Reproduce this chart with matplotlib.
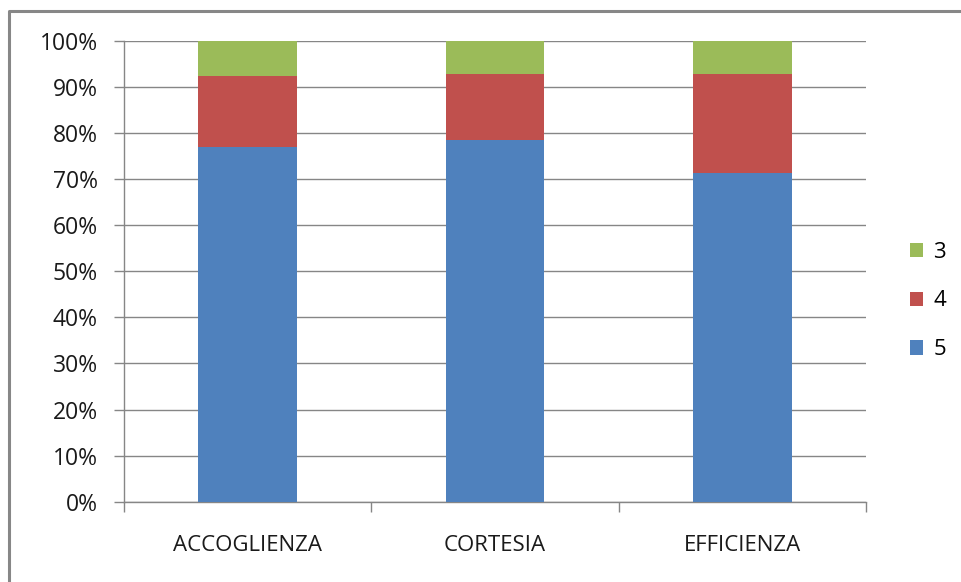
import matplotlib
matplotlib.use("Agg")
import matplotlib.pyplot as plt
from matplotlib.lines import Line2D
import numpy as np

categories = ["ACCOGLIENZA", "CORTESIA", "EFFICIENZA"]
series_names = ["5", "4", "3"]
val_5 = [76.9, 78.6, 71.4]
val_4 = [15.4, 14.3, 21.4]
val_3 = [7.7, 7.1, 7.2]
colors = {"5": "#4F81BD", "4": "#C0504D", "3": "#9BBB59"}

plt.rcParams['font.family'] = ['Open Sans', 'DejaVu Sans']

W, H = 962, 582
fig = plt.figure(figsize=(W / 100, H / 100), dpi=100)
fig.patch.set_facecolor("white")

# outer chart border (only top and left edges inside the image)
fig.add_artist(Line2D([9 / W, 9 / W, 1.0], [0.0, (H - 11) / H, (H - 11) / H],
                      transform=fig.transFigure, color="#878787", linewidth=2.2))

ax = fig.add_axes([124 / W, (H - 501.7) / H, (866 - 124) / W, (501.7 - 41) / H])
x = np.arange(len(categories))
width = 0.4
bottom = np.zeros(len(categories))
handles = {}
for name, vals in zip(series_names, [val_5, val_4, val_3]):
    b = ax.bar(x, vals, width, bottom=bottom, color=colors[name], label=name, zorder=3,
               edgecolor="none")
    handles[name] = b
    bottom += np.array(vals)

ax.set_xlim(-0.5, len(categories) - 0.5)
ax.set_ylim(0, 100)
ax.set_yticks(np.arange(0, 101, 10))
ax.set_yticklabels([f"{v}%" for v in range(0, 101, 10)], fontsize=16.5, color="#1a1a1a")
ax.set_xticks(x)
ax.set_xticklabels(categories, fontsize=16, color="#1a1a1a")
ax.tick_params(axis="x", length=0, pad=24)
ax.tick_params(axis="y", length=7, width=1, color="#868686", pad=12)
ax.set_xticks(np.arange(-0.5, len(categories), 1), minor=True)
ax.tick_params(axis="x", which="minor", length=7, width=1, color="#868686", direction="out")
ax.grid(axis="y", color="#868686", linewidth=1, zorder=0)
for s in ["top", "right"]:
    ax.spines[s].set_visible(False)
for s in ["left", "bottom"]:
    ax.spines[s].set_color("#868686")
    ax.spines[s].set_linewidth(1)

leg = fig.legend([handles["3"], handles["4"], handles["5"]], ["3", "4", "5"],
                 loc="center left", bbox_to_anchor=(890 / W, (H - 301) / H),
                 frameon=False, fontsize=16, handlelength=0.6, handleheight=0.6,
                 handletextpad=0.45, labelspacing=1.25)

fig.savefig("out.png", dpi=100, facecolor="white")
